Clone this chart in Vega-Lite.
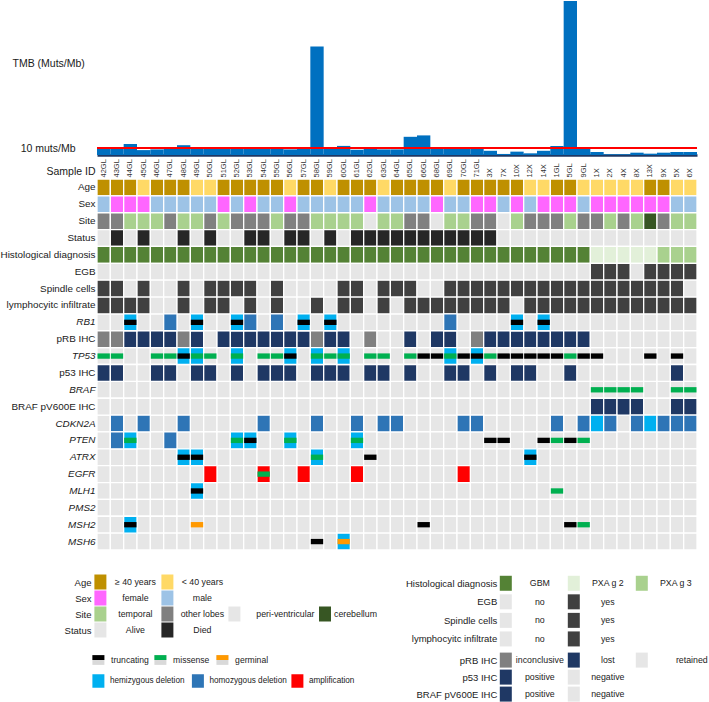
{
  "$schema": "https://vega.github.io/schema/vega-lite/v6.json",
  "padding": {"left": 0, "top": 1, "right": 5, "bottom": 0},
  "bounds": "flush",
  "spacing": 24,
  "config": {
    "view": {"stroke": null},
    "font": "Liberation Sans",
    "axis": {"labelFont": "Liberation Sans", "titleFont": "Liberation Sans", "labelColor": "#1a1a1a", "titleColor": "#1a1a1a", "titleFontWeight": "normal"},
    "text": {"font": "Liberation Sans"}
  },
  "datasets": {
    "samples": [
      {"sample":"42GL","TMB":9.5,"Age":"≥ 40 years","Sex":"male","Site":"other lobes","Status":"Alive","Histological diagnosis":"GBM","EGB":"no","Spindle cells":"yes","lymphocyitc infiltrate":"yes","pRB IHC":"inconclusive","p53 IHC":"positive","BRAF pV600E IHC":"negative"},
      {"sample":"43GL","TMB":9.5,"Age":"≥ 40 years","Sex":"female","Site":"other lobes","Status":"Died","Histological diagnosis":"GBM","EGB":"no","Spindle cells":"yes","lymphocyitc infiltrate":"yes","pRB IHC":"inconclusive","p53 IHC":"positive","BRAF pV600E IHC":"negative"},
      {"sample":"44GL","TMB":15.7,"Age":"≥ 40 years","Sex":"female","Site":"temporal","Status":"Alive","Histological diagnosis":"GBM","EGB":"no","Spindle cells":"no","lymphocyitc infiltrate":"yes","pRB IHC":"lost","p53 IHC":"negative","BRAF pV600E IHC":"negative"},
      {"sample":"45GL","TMB":7,"Age":"< 40 years","Sex":"female","Site":"temporal","Status":"Died","Histological diagnosis":"GBM","EGB":"no","Spindle cells":"yes","lymphocyitc infiltrate":"yes","pRB IHC":"lost","p53 IHC":"negative","BRAF pV600E IHC":"negative"},
      {"sample":"46GL","TMB":8,"Age":"≥ 40 years","Sex":"male","Site":"temporal","Status":"Alive","Histological diagnosis":"GBM","EGB":"no","Spindle cells":"no","lymphocyitc infiltrate":"no","pRB IHC":"lost","p53 IHC":"positive","BRAF pV600E IHC":"negative"},
      {"sample":"47GL","TMB":9.5,"Age":"≥ 40 years","Sex":"male","Site":"other lobes","Status":"Alive","Histological diagnosis":"GBM","EGB":"no","Spindle cells":"no","lymphocyitc infiltrate":"no","pRB IHC":"lost","p53 IHC":"positive","BRAF pV600E IHC":"negative"},
      {"sample":"48GL","TMB":14,"Age":"≥ 40 years","Sex":"male","Site":"temporal","Status":"Died","Histological diagnosis":"GBM","EGB":"no","Spindle cells":"yes","lymphocyitc infiltrate":"yes","pRB IHC":"inconclusive","p53 IHC":"negative","BRAF pV600E IHC":"negative"},
      {"sample":"49GL","TMB":9.5,"Age":"< 40 years","Sex":"male","Site":"temporal","Status":"Alive","Histological diagnosis":"GBM","EGB":"no","Spindle cells":"no","lymphocyitc infiltrate":"no","pRB IHC":"lost","p53 IHC":"positive","BRAF pV600E IHC":"negative"},
      {"sample":"50GL","TMB":9.5,"Age":"< 40 years","Sex":"male","Site":"other lobes","Status":"Died","Histological diagnosis":"GBM","EGB":"no","Spindle cells":"yes","lymphocyitc infiltrate":"yes","pRB IHC":"retained","p53 IHC":"positive","BRAF pV600E IHC":"negative"},
      {"sample":"51GL","TMB":9.5,"Age":"≥ 40 years","Sex":"female","Site":"temporal","Status":"Alive","Histological diagnosis":"GBM","EGB":"no","Spindle cells":"yes","lymphocyitc infiltrate":"yes","pRB IHC":"lost","p53 IHC":"negative","BRAF pV600E IHC":"negative"},
      {"sample":"52GL","TMB":9.5,"Age":"≥ 40 years","Sex":"male","Site":"other lobes","Status":"Alive","Histological diagnosis":"GBM","EGB":"no","Spindle cells":"yes","lymphocyitc infiltrate":"no","pRB IHC":"lost","p53 IHC":"positive","BRAF pV600E IHC":"negative"},
      {"sample":"53GL","TMB":9.5,"Age":"≥ 40 years","Sex":"female","Site":"other lobes","Status":"Died","Histological diagnosis":"GBM","EGB":"no","Spindle cells":"yes","lymphocyitc infiltrate":"yes","pRB IHC":"lost","p53 IHC":"negative","BRAF pV600E IHC":"negative"},
      {"sample":"54GL","TMB":9.5,"Age":"≥ 40 years","Sex":"male","Site":"other lobes","Status":"Died","Histological diagnosis":"GBM","EGB":"no","Spindle cells":"no","lymphocyitc infiltrate":"no","pRB IHC":"lost","p53 IHC":"positive","BRAF pV600E IHC":"negative"},
      {"sample":"55GL","TMB":9.5,"Age":"≥ 40 years","Sex":"male","Site":"temporal","Status":"Alive","Histological diagnosis":"GBM","EGB":"no","Spindle cells":"yes","lymphocyitc infiltrate":"yes","pRB IHC":"lost","p53 IHC":"positive","BRAF pV600E IHC":"negative"},
      {"sample":"56GL","TMB":8,"Age":"< 40 years","Sex":"female","Site":"other lobes","Status":"Died","Histological diagnosis":"GBM","EGB":"no","Spindle cells":"no","lymphocyitc infiltrate":"no","pRB IHC":"lost","p53 IHC":"positive","BRAF pV600E IHC":"negative"},
      {"sample":"57GL","TMB":9.5,"Age":"≥ 40 years","Sex":"male","Site":"other lobes","Status":"Died","Histological diagnosis":"GBM","EGB":"no","Spindle cells":"no","lymphocyitc infiltrate":"no","pRB IHC":"lost","p53 IHC":"negative","BRAF pV600E IHC":"negative"},
      {"sample":"58GL","TMB":155,"Age":"≥ 40 years","Sex":"male","Site":"temporal","Status":"Alive","Histological diagnosis":"GBM","EGB":"no","Spindle cells":"no","lymphocyitc infiltrate":"yes","pRB IHC":"inconclusive","p53 IHC":"positive","BRAF pV600E IHC":"negative"},
      {"sample":"59GL","TMB":9.5,"Age":"< 40 years","Sex":"male","Site":"temporal","Status":"Died","Histological diagnosis":"GBM","EGB":"no","Spindle cells":"no","lymphocyitc infiltrate":"no","pRB IHC":"lost","p53 IHC":"positive","BRAF pV600E IHC":"negative"},
      {"sample":"60GL","TMB":13,"Age":"≥ 40 years","Sex":"male","Site":"temporal","Status":"Alive","Histological diagnosis":"GBM","EGB":"no","Spindle cells":"yes","lymphocyitc infiltrate":"yes","pRB IHC":"lost","p53 IHC":"positive","BRAF pV600E IHC":"negative"},
      {"sample":"61GL","TMB":7.5,"Age":"≥ 40 years","Sex":"male","Site":"temporal","Status":"Died","Histological diagnosis":"GBM","EGB":"no","Spindle cells":"yes","lymphocyitc infiltrate":"yes","pRB IHC":"retained","p53 IHC":"negative","BRAF pV600E IHC":"negative"},
      {"sample":"62GL","TMB":9.5,"Age":"≥ 40 years","Sex":"female","Site":"peri-ventricular","Status":"Died","Histological diagnosis":"GBM","EGB":"no","Spindle cells":"no","lymphocyitc infiltrate":"no","pRB IHC":"inconclusive","p53 IHC":"positive","BRAF pV600E IHC":"negative"},
      {"sample":"63GL","TMB":8,"Age":"< 40 years","Sex":"male","Site":"temporal","Status":"Died","Histological diagnosis":"GBM","EGB":"no","Spindle cells":"yes","lymphocyitc infiltrate":"yes","pRB IHC":"retained","p53 IHC":"positive","BRAF pV600E IHC":"negative"},
      {"sample":"64GL","TMB":8,"Age":"≥ 40 years","Sex":"male","Site":"temporal","Status":"Died","Histological diagnosis":"GBM","EGB":"no","Spindle cells":"yes","lymphocyitc infiltrate":"no","pRB IHC":"retained","p53 IHC":"negative","BRAF pV600E IHC":"negative"},
      {"sample":"65GL","TMB":26,"Age":"≥ 40 years","Sex":"male","Site":"other lobes","Status":"Died","Histological diagnosis":"GBM","EGB":"no","Spindle cells":"yes","lymphocyitc infiltrate":"yes","pRB IHC":"lost","p53 IHC":"positive","BRAF pV600E IHC":"negative"},
      {"sample":"66GL","TMB":28,"Age":"≥ 40 years","Sex":"male","Site":"other lobes","Status":"Died","Histological diagnosis":"GBM","EGB":"no","Spindle cells":"no","lymphocyitc infiltrate":"yes","pRB IHC":"retained","p53 IHC":"negative","BRAF pV600E IHC":"negative"},
      {"sample":"68GL","TMB":9.5,"Age":"≥ 40 years","Sex":"female","Site":"peri-ventricular","Status":"Died","Histological diagnosis":"GBM","EGB":"no","Spindle cells":"no","lymphocyitc infiltrate":"yes","pRB IHC":"lost","p53 IHC":"negative","BRAF pV600E IHC":"negative"},
      {"sample":"69GL","TMB":9.5,"Age":"< 40 years","Sex":"male","Site":"temporal","Status":"Died","Histological diagnosis":"GBM","EGB":"no","Spindle cells":"yes","lymphocyitc infiltrate":"yes","pRB IHC":"lost","p53 IHC":"positive","BRAF pV600E IHC":"negative"},
      {"sample":"70GL","TMB":9.5,"Age":"≥ 40 years","Sex":"male","Site":"temporal","Status":"Died","Histological diagnosis":"GBM","EGB":"no","Spindle cells":"yes","lymphocyitc infiltrate":"yes","pRB IHC":"retained","p53 IHC":"positive","BRAF pV600E IHC":"negative"},
      {"sample":"71GL","TMB":9.5,"Age":"≥ 40 years","Sex":"female","Site":"other lobes","Status":"Died","Histological diagnosis":"GBM","EGB":"no","Spindle cells":"yes","lymphocyitc infiltrate":"yes","pRB IHC":"inconclusive","p53 IHC":"negative","BRAF pV600E IHC":"negative"},
      {"sample":"3X","TMB":6,"Age":"≥ 40 years","Sex":"female","Site":"other lobes","Status":"Died","Histological diagnosis":"GBM","EGB":"no","Spindle cells":"yes","lymphocyitc infiltrate":"yes","pRB IHC":"lost","p53 IHC":"positive","BRAF pV600E IHC":"negative"},
      {"sample":"7X","TMB":1.5,"Age":"≥ 40 years","Sex":"male","Site":"peri-ventricular","Status":"Alive","Histological diagnosis":"GBM","EGB":"no","Spindle cells":"yes","lymphocyitc infiltrate":"yes","pRB IHC":"lost","p53 IHC":"negative","BRAF pV600E IHC":"negative"},
      {"sample":"10X","TMB":4.8,"Age":"≥ 40 years","Sex":"female","Site":"temporal","Status":"Alive","Histological diagnosis":"GBM","EGB":"no","Spindle cells":"yes","lymphocyitc infiltrate":"no","pRB IHC":"lost","p53 IHC":"positive","BRAF pV600E IHC":"negative"},
      {"sample":"12X","TMB":2.4,"Age":"< 40 years","Sex":"male","Site":"other lobes","Status":"Alive","Histological diagnosis":"GBM","EGB":"no","Spindle cells":"yes","lymphocyitc infiltrate":"yes","pRB IHC":"lost","p53 IHC":"positive","BRAF pV600E IHC":"negative"},
      {"sample":"14X","TMB":6,"Age":"< 40 years","Sex":"female","Site":"other lobes","Status":"Alive","Histological diagnosis":"GBM","EGB":"no","Spindle cells":"yes","lymphocyitc infiltrate":"yes","pRB IHC":"lost","p53 IHC":"negative","BRAF pV600E IHC":"negative"},
      {"sample":"1GL","TMB":12.9,"Age":"≥ 40 years","Sex":"female","Site":"other lobes","Status":"Alive","Histological diagnosis":"GBM","EGB":"no","Spindle cells":"yes","lymphocyitc infiltrate":"yes","pRB IHC":"lost","p53 IHC":"negative","BRAF pV600E IHC":"negative"},
      {"sample":"5GL","TMB":220,"Age":"≥ 40 years","Sex":"female","Site":"temporal","Status":"Alive","Histological diagnosis":"GBM","EGB":"no","Spindle cells":"yes","lymphocyitc infiltrate":"yes","pRB IHC":"lost","p53 IHC":"positive","BRAF pV600E IHC":"negative"},
      {"sample":"9GL","TMB":9.5,"Age":"< 40 years","Sex":"male","Site":"other lobes","Status":"Alive","Histological diagnosis":"GBM","EGB":"no","Spindle cells":"yes","lymphocyitc infiltrate":"yes","pRB IHC":"lost","p53 IHC":"negative","BRAF pV600E IHC":"negative"},
      {"sample":"1X","TMB":4.3,"Age":"< 40 years","Sex":"female","Site":"other lobes","Status":"Alive","Histological diagnosis":"PXA g 2","EGB":"yes","Spindle cells":"yes","lymphocyitc infiltrate":"yes","pRB IHC":"retained","p53 IHC":"negative","BRAF pV600E IHC":"positive"},
      {"sample":"2X","TMB":1,"Age":"< 40 years","Sex":"female","Site":"temporal","Status":"Alive","Histological diagnosis":"PXA g 2","EGB":"yes","Spindle cells":"yes","lymphocyitc infiltrate":"yes","pRB IHC":"retained","p53 IHC":"negative","BRAF pV600E IHC":"positive"},
      {"sample":"4X","TMB":1,"Age":"< 40 years","Sex":"female","Site":"other lobes","Status":"Alive","Histological diagnosis":"PXA g 2","EGB":"yes","Spindle cells":"yes","lymphocyitc infiltrate":"yes","pRB IHC":"retained","p53 IHC":"negative","BRAF pV600E IHC":"positive"},
      {"sample":"8X","TMB":3.3,"Age":"< 40 years","Sex":"female","Site":"temporal","Status":"Alive","Histological diagnosis":"PXA g 2","EGB":"no","Spindle cells":"yes","lymphocyitc infiltrate":"yes","pRB IHC":"retained","p53 IHC":"negative","BRAF pV600E IHC":"positive"},
      {"sample":"13X","TMB":1.9,"Age":"≥ 40 years","Sex":"female","Site":"cerebellum","Status":"Alive","Histological diagnosis":"PXA g 2","EGB":"yes","Spindle cells":"yes","lymphocyitc infiltrate":"yes","pRB IHC":"retained","p53 IHC":"negative","BRAF pV600E IHC":"negative"},
      {"sample":"9X","TMB":3.3,"Age":"≥ 40 years","Sex":"female","Site":"other lobes","Status":"Alive","Histological diagnosis":"PXA g 3","EGB":"yes","Spindle cells":"yes","lymphocyitc infiltrate":"yes","pRB IHC":"retained","p53 IHC":"negative","BRAF pV600E IHC":"negative"},
      {"sample":"5X","TMB":4.3,"Age":"< 40 years","Sex":"male","Site":"temporal","Status":"Alive","Histological diagnosis":"PXA g 3","EGB":"yes","Spindle cells":"yes","lymphocyitc infiltrate":"yes","pRB IHC":"retained","p53 IHC":"positive","BRAF pV600E IHC":"positive"},
      {"sample":"6X","TMB":4.3,"Age":"< 40 years","Sex":"male","Site":"temporal","Status":"Alive","Histological diagnosis":"PXA g 3","EGB":"yes","Spindle cells":"no","lymphocyitc infiltrate":"yes","pRB IHC":"retained","p53 IHC":"negative","BRAF pV600E IHC":"positive"}
    ],
    "alterations": [
      {"sample":"44GL","row":"RB1","cnv":"hemizygous deletion","mut":"truncating"},
      {"sample":"47GL","row":"RB1","cnv":"homozygous deletion"},
      {"sample":"49GL","row":"RB1","cnv":"hemizygous deletion","mut":"truncating"},
      {"sample":"52GL","row":"RB1","cnv":"hemizygous deletion","mut":"truncating"},
      {"sample":"53GL","row":"RB1","cnv":"homozygous deletion"},
      {"sample":"55GL","row":"RB1","cnv":"homozygous deletion"},
      {"sample":"57GL","row":"RB1","cnv":"hemizygous deletion","mut":"truncating"},
      {"sample":"59GL","row":"RB1","cnv":"hemizygous deletion","mut":"truncating"},
      {"sample":"69GL","row":"RB1","cnv":"homozygous deletion"},
      {"sample":"10X","row":"RB1","cnv":"hemizygous deletion","mut":"truncating"},
      {"sample":"14X","row":"RB1","cnv":"hemizygous deletion","mut":"truncating"},
      {"sample":"42GL","row":"TP53","mut":"missense"},
      {"sample":"43GL","row":"TP53","mut":"missense"},
      {"sample":"46GL","row":"TP53","mut":"missense"},
      {"sample":"47GL","row":"TP53","mut":"missense"},
      {"sample":"48GL","row":"TP53","cnv":"hemizygous deletion","mut":"truncating"},
      {"sample":"49GL","row":"TP53","cnv":"hemizygous deletion","mut":"missense"},
      {"sample":"50GL","row":"TP53","mut":"missense"},
      {"sample":"52GL","row":"TP53","cnv":"hemizygous deletion","mut":"missense"},
      {"sample":"54GL","row":"TP53","mut":"missense"},
      {"sample":"55GL","row":"TP53","mut":"missense"},
      {"sample":"56GL","row":"TP53","cnv":"hemizygous deletion","mut":"truncating"},
      {"sample":"58GL","row":"TP53","cnv":"hemizygous deletion","mut":"missense"},
      {"sample":"59GL","row":"TP53","mut":"missense"},
      {"sample":"60GL","row":"TP53","cnv":"hemizygous deletion","mut":"missense"},
      {"sample":"62GL","row":"TP53","mut":"missense"},
      {"sample":"63GL","row":"TP53","mut":"missense"},
      {"sample":"65GL","row":"TP53","mut":"missense"},
      {"sample":"66GL","row":"TP53","mut":"truncating"},
      {"sample":"68GL","row":"TP53","mut":"truncating"},
      {"sample":"69GL","row":"TP53","cnv":"hemizygous deletion","mut":"missense"},
      {"sample":"70GL","row":"TP53","mut":"truncating"},
      {"sample":"71GL","row":"TP53","cnv":"hemizygous deletion","mut":"truncating"},
      {"sample":"3X","row":"TP53","mut":"missense"},
      {"sample":"7X","row":"TP53","mut":"truncating"},
      {"sample":"10X","row":"TP53","mut":"truncating"},
      {"sample":"12X","row":"TP53","mut":"truncating"},
      {"sample":"14X","row":"TP53","mut":"truncating"},
      {"sample":"1GL","row":"TP53","mut":"truncating"},
      {"sample":"5GL","row":"TP53","mut":"missense"},
      {"sample":"9GL","row":"TP53","mut":"truncating"},
      {"sample":"1X","row":"TP53","mut":"truncating"},
      {"sample":"13X","row":"TP53","mut":"truncating"},
      {"sample":"5X","row":"TP53","mut":"truncating"},
      {"sample":"1X","row":"BRAF","mut":"missense"},
      {"sample":"2X","row":"BRAF","mut":"missense"},
      {"sample":"4X","row":"BRAF","mut":"missense"},
      {"sample":"8X","row":"BRAF","mut":"missense"},
      {"sample":"5X","row":"BRAF","mut":"missense"},
      {"sample":"6X","row":"BRAF","mut":"missense"},
      {"sample":"43GL","row":"CDKN2A","cnv":"homozygous deletion"},
      {"sample":"45GL","row":"CDKN2A","cnv":"homozygous deletion"},
      {"sample":"48GL","row":"CDKN2A","cnv":"homozygous deletion"},
      {"sample":"54GL","row":"CDKN2A","cnv":"homozygous deletion"},
      {"sample":"58GL","row":"CDKN2A","cnv":"homozygous deletion"},
      {"sample":"61GL","row":"CDKN2A","cnv":"homozygous deletion"},
      {"sample":"63GL","row":"CDKN2A","cnv":"homozygous deletion"},
      {"sample":"64GL","row":"CDKN2A","cnv":"homozygous deletion"},
      {"sample":"70GL","row":"CDKN2A","cnv":"homozygous deletion"},
      {"sample":"71GL","row":"CDKN2A","cnv":"homozygous deletion"},
      {"sample":"1GL","row":"CDKN2A","cnv":"homozygous deletion"},
      {"sample":"9GL","row":"CDKN2A","cnv":"homozygous deletion"},
      {"sample":"1X","row":"CDKN2A","cnv":"hemizygous deletion"},
      {"sample":"2X","row":"CDKN2A","cnv":"homozygous deletion"},
      {"sample":"8X","row":"CDKN2A","cnv":"homozygous deletion"},
      {"sample":"13X","row":"CDKN2A","cnv":"hemizygous deletion"},
      {"sample":"9X","row":"CDKN2A","cnv":"homozygous deletion"},
      {"sample":"5X","row":"CDKN2A","cnv":"homozygous deletion"},
      {"sample":"6X","row":"CDKN2A","cnv":"homozygous deletion"},
      {"sample":"43GL","row":"PTEN","cnv":"homozygous deletion"},
      {"sample":"44GL","row":"PTEN","cnv":"hemizygous deletion","mut":"missense"},
      {"sample":"47GL","row":"PTEN","cnv":"homozygous deletion"},
      {"sample":"52GL","row":"PTEN","cnv":"hemizygous deletion","mut":"missense"},
      {"sample":"53GL","row":"PTEN","cnv":"hemizygous deletion","mut":"truncating"},
      {"sample":"56GL","row":"PTEN","cnv":"hemizygous deletion","mut":"missense"},
      {"sample":"61GL","row":"PTEN","cnv":"hemizygous deletion","mut":"missense"},
      {"sample":"3X","row":"PTEN","mut":"truncating"},
      {"sample":"7X","row":"PTEN","mut":"truncating"},
      {"sample":"14X","row":"PTEN","mut":"truncating"},
      {"sample":"1GL","row":"PTEN","mut":"missense"},
      {"sample":"5GL","row":"PTEN","mut":"truncating"},
      {"sample":"9GL","row":"PTEN","mut":"missense"},
      {"sample":"48GL","row":"ATRX","cnv":"hemizygous deletion","mut":"truncating"},
      {"sample":"49GL","row":"ATRX","cnv":"hemizygous deletion","mut":"truncating"},
      {"sample":"58GL","row":"ATRX","cnv":"hemizygous deletion","mut":"missense"},
      {"sample":"62GL","row":"ATRX","mut":"truncating"},
      {"sample":"12X","row":"ATRX","cnv":"hemizygous deletion","mut":"truncating"},
      {"sample":"50GL","row":"EGFR","cnv":"amplification"},
      {"sample":"54GL","row":"EGFR","cnv":"amplification","mut":"missense"},
      {"sample":"57GL","row":"EGFR","cnv":"amplification"},
      {"sample":"61GL","row":"EGFR","cnv":"amplification"},
      {"sample":"70GL","row":"EGFR","cnv":"amplification"},
      {"sample":"49GL","row":"MLH1","cnv":"hemizygous deletion","mut":"truncating"},
      {"sample":"1GL","row":"MLH1","mut":"missense"},
      {"sample":"44GL","row":"MSH2","cnv":"hemizygous deletion","mut":"truncating"},
      {"sample":"49GL","row":"MSH2","mut":"germinal"},
      {"sample":"66GL","row":"MSH2","mut":"truncating"},
      {"sample":"5GL","row":"MSH2","mut":"truncating"},
      {"sample":"9GL","row":"MSH2","mut":"missense"},
      {"sample":"58GL","row":"MSH6","mut":"truncating"},
      {"sample":"60GL","row":"MSH6","cnv":"hemizygous deletion","mut":"germinal"}
    ],
    "legend_clin": [
      {"row":"Age","slot":1,"cat":"≥ 40 years"},{"row":"Age","slot":2,"cat":"< 40 years"},
      {"row":"Sex","slot":1,"cat":"female"},{"row":"Sex","slot":2,"cat":"male"},
      {"row":"Site","slot":1,"cat":"temporal"},{"row":"Site","slot":2,"cat":"other lobes"},{"row":"Site","slot":3,"cat":"peri-ventricular"},{"row":"Site","slot":4,"cat":"cerebellum"},
      {"row":"Status","slot":1,"cat":"Alive"},{"row":"Status","slot":2,"cat":"Died"}
    ],
    "legend_alt": [
      {"row":"mutation","slot":1,"cat":"truncating"},{"row":"mutation","slot":2,"cat":"missense"},{"row":"mutation","slot":3,"cat":"germinal"},
      {"row":"cnv","slot":1,"cat":"hemizygous deletion"},{"row":"cnv","slot":2,"cat":"homozygous deletion"},{"row":"cnv","slot":3,"cat":"amplification"}
    ],
    "legend_hist": [
      {"row":"Histological diagnosis","slot":1,"cat":"GBM"},{"row":"Histological diagnosis","slot":2,"cat":"PXA g 2"},{"row":"Histological diagnosis","slot":3,"cat":"PXA g 3"},
      {"row":"EGB","slot":1,"cat":"no"},{"row":"EGB","slot":2,"cat":"yes"},
      {"row":"Spindle cells","slot":1,"cat":"no"},{"row":"Spindle cells","slot":2,"cat":"yes"},
      {"row":"lymphocyitc infiltrate","slot":1,"cat":"no"},{"row":"lymphocyitc infiltrate","slot":2,"cat":"yes"}
    ],
    "legend_ihc": [
      {"row":"pRB IHC","slot":1,"cat":"inconclusive"},{"row":"pRB IHC","slot":2,"cat":"lost"},{"row":"pRB IHC","slot":3,"cat":"retained"},
      {"row":"p53 IHC","slot":1,"cat":"positive"},{"row":"p53 IHC","slot":2,"cat":"negative"},
      {"row":"BRAF pV600E IHC","slot":1,"cat":"positive"},{"row":"BRAF pV600E IHC","slot":2,"cat":"negative"}
    ]
  },
  "vconcat": [
    {
      "width": 600,
      "height": 154,
      "data": {"name": "samples"},
      "layer": [
        {
          "mark": {"type": "bar", "color": "#0070C0"},
          "encoding": {
            "x": {"field": "sample", "type": "nominal", "scale": {"domain": ["42GL","43GL","44GL","45GL","46GL","47GL","48GL","49GL","50GL","51GL","52GL","53GL","54GL","55GL","56GL","57GL","58GL","59GL","60GL","61GL","62GL","63GL","64GL","65GL","66GL","68GL","69GL","70GL","71GL","3X","7X","10X","12X","14X","1GL","5GL","9GL","1X","2X","4X","8X","13X","9X","5X","6X"], "paddingInner": 0, "paddingOuter": 0}, "axis": {"labels": false, "ticks": false, "title": null, "domainColor": "#1F3864", "domainWidth": 2.5}},
            "y": {"field": "TMB", "type": "quantitative", "scale": {"domain": [0, 220], "nice": false}, "axis": {"values": [10], "labelExpr": "'10 muts/Mb'", "ticks": false, "domain": false, "grid": false, "labelPadding": 22, "labelFontSize": 10.5, "title": "TMB (Muts/Mb)", "titleAngle": 0, "titleAlign": "left", "titleBaseline": "middle", "titleX": -85, "titleY": 62, "titleFontSize": 10.5}}
          }
        },
        {
          "mark": {"type": "rule", "color": "#FF0000", "strokeWidth": 1.5},
          "encoding": {"y": {"datum": 10}}
        }
      ]
    },
    {
      "width": 600,
      "height": 371,
      "encoding": {
        "x": {"field": "sample", "type": "nominal", "scale": {"domain": ["42GL","43GL","44GL","45GL","46GL","47GL","48GL","49GL","50GL","51GL","52GL","53GL","54GL","55GL","56GL","57GL","58GL","59GL","60GL","61GL","62GL","63GL","64GL","65GL","66GL","68GL","69GL","70GL","71GL","3X","7X","10X","12X","14X","1GL","5GL","9GL","1X","2X","4X","8X","13X","9X","5X","6X"], "paddingInner": 0, "paddingOuter": 0}, "axis": {"orient": "top", "labelAngle": -90, "labelFontSize": 7.5, "labelPadding": 2, "ticks": false, "domain": false, "labelOverlap": false, "labelColor": "#333333", "title": "Sample ID", "titleFontSize": 10.5, "titleAngle": 0, "titleAlign": "right", "titleBaseline": "middle", "titleX": -2, "titleY": -8}},
        "y": {"field": "row", "type": "nominal", "scale": {"domain": ["Age","Sex","Site","Status","Histological diagnosis","EGB","Spindle cells","lymphocyitc infiltrate","RB1","pRB IHC","TP53","p53 IHC","BRAF","BRAF pV600E IHC","CDKN2A","PTEN","ATRX","EGFR","MLH1","PMS2","MSH2","MSH6"], "paddingInner": 0, "paddingOuter": 0}, "axis": {"title": null, "ticks": false, "domain": false, "labelPadding": 2, "labelFontSize": 9.9, "labelOverlap": false, "labelFontStyle": {"condition": {"test": "indexof(['RB1','TP53','BRAF','CDKN2A','PTEN','ATRX','EGFR','MLH1','PMS2','MSH2','MSH6'], datum.value) >= 0", "value": "italic"}, "value": "normal"}}}
      },
      "layer": [
        {
          "data": {"name": "samples"},
          "transform": [{"fold": ["RB1","TP53","BRAF","CDKN2A","PTEN","ATRX","EGFR","MLH1","PMS2","MSH2","MSH6"], "as": ["row", "v"]}],
          "mark": {"type": "rect", "fill": "#E6E6E6", "stroke": "white", "strokeWidth": 1.3}
        },
        {
          "data": {"name": "samples"},
          "transform": [{"fold": ["Age","Sex","Site","Status","Histological diagnosis","EGB","Spindle cells","lymphocyitc infiltrate","pRB IHC","p53 IHC","BRAF pV600E IHC"], "as": ["row", "cat"]}],
          "mark": {"type": "rect", "stroke": "white", "strokeWidth": 1.3},
          "encoding": {"color": {"field": "cat", "type": "nominal", "legend": null, "scale": {"domain": ["≥ 40 years","< 40 years","female","male","temporal","other lobes","peri-ventricular","cerebellum","Alive","Died","GBM","PXA g 2","PXA g 3","no","yes","inconclusive","lost","retained","positive","negative","hemizygous deletion","homozygous deletion","amplification","truncating","missense","germinal"], "range": ["#BF9000","#FFD966","#FF66FF","#9DC3E6","#A9D18E","#808080","#E6E6E6","#375623","#E6E6E6","#262626","#548235","#E2F0D9","#A9D18E","#E6E6E6","#404040","#808080","#1F3864","#E6E6E6","#1F3864","#E6E6E6","#00B0F0","#2E75B6","#FF0000","#000000","#00B050","#FF9900"]}}}
        },
        {
          "data": {"name": "alterations"},
          "transform": [{"filter": "isValid(datum.cnv)"}],
          "mark": {"type": "rect", "stroke": "white", "strokeWidth": 1.3},
          "encoding": {"color": {"field": "cnv", "type": "nominal", "legend": null, "scale": {"domain": ["≥ 40 years","< 40 years","female","male","temporal","other lobes","peri-ventricular","cerebellum","Alive","Died","GBM","PXA g 2","PXA g 3","no","yes","inconclusive","lost","retained","positive","negative","hemizygous deletion","homozygous deletion","amplification","truncating","missense","germinal"], "range": ["#BF9000","#FFD966","#FF66FF","#9DC3E6","#A9D18E","#808080","#E6E6E6","#375623","#E6E6E6","#262626","#548235","#E2F0D9","#A9D18E","#E6E6E6","#404040","#808080","#1F3864","#E6E6E6","#1F3864","#E6E6E6","#00B0F0","#2E75B6","#FF0000","#000000","#00B050","#FF9900"]}}}
        },
        {
          "data": {"name": "alterations"},
          "transform": [{"filter": "isValid(datum.mut)"}],
          "mark": {"type": "point", "shape": "M-0.95,-0.41H0.95V0.41H-0.95Z", "size": 169, "filled": true, "opacity": 1, "strokeWidth": 0},
          "encoding": {"color": {"field": "mut", "type": "nominal", "legend": null, "scale": {"domain": ["≥ 40 years","< 40 years","female","male","temporal","other lobes","peri-ventricular","cerebellum","Alive","Died","GBM","PXA g 2","PXA g 3","no","yes","inconclusive","lost","retained","positive","negative","hemizygous deletion","homozygous deletion","amplification","truncating","missense","germinal"], "range": ["#BF9000","#FFD966","#FF66FF","#9DC3E6","#A9D18E","#808080","#E6E6E6","#375623","#E6E6E6","#262626","#548235","#E2F0D9","#A9D18E","#E6E6E6","#404040","#808080","#1F3864","#E6E6E6","#1F3864","#E6E6E6","#00B0F0","#2E75B6","#FF0000","#000000","#00B050","#FF9900"]}}}
        }
      ]
    },
    {
      "bounds": "flush",
      "spacing": 402.8,
      "hconcat": [
        {
          "bounds": "flush",
          "spacing": 11.5,
          "vconcat": [
            {
              "width": 240,
              "height": 64,
              "data": {"name": "legend_clin"},
              "resolve": {"scale": {"x": "independent"}},
              "encoding": {
                "y": {"field": "row", "type": "nominal", "scale": {"domain": ["Age","Sex","Site","Status"], "paddingInner": 0, "paddingOuter": 0.08}, "axis": {"title": null, "ticks": false, "domain": false, "labelPadding": 6, "labelFontSize": 9.5}}
              },
              "layer": [
                {
                  "transform": [{"filter": "datum.slot != 4"}],
                  "encoding": {
                    "x": {"field": "slot", "type": "ordinal", "scale": {"type": "point", "domain": [1,2,3], "padding": 0.791, "align": 0.032}, "axis": null}
                  },
                  "layer": [
                    {
                      "mark": {"type": "point", "shape": "M-0.8,-1H0.8V1H-0.8Z", "size": 225, "filled": true, "opacity": 1, "strokeWidth": 0},
                      "encoding": {"color": {"field": "cat", "type": "nominal", "legend": null, "scale": {"domain": ["≥ 40 years","< 40 years","female","male","temporal","other lobes","peri-ventricular","cerebellum","Alive","Died","GBM","PXA g 2","PXA g 3","no","yes","inconclusive","lost","retained","positive","negative","hemizygous deletion","homozygous deletion","amplification","truncating","missense","germinal"], "range": ["#BF9000","#FFD966","#FF66FF","#9DC3E6","#A9D18E","#808080","#E6E6E6","#375623","#E6E6E6","#262626","#548235","#E2F0D9","#A9D18E","#E6E6E6","#404040","#808080","#1F3864","#E6E6E6","#1F3864","#E6E6E6","#00B0F0","#2E75B6","#FF0000","#000000","#00B050","#FF9900"]}}}
                    },
                    {
                      "transform": [{"filter": "datum.slot != 3"}],
                      "mark": {"type": "text", "dx": 35, "align": "center", "baseline": "middle", "fontSize": 8.8, "color": "#222222"},
                      "encoding": {"text": {"field": "cat"}}
                    },
                    {
                      "transform": [{"filter": "datum.slot == 3"}],
                      "mark": {"type": "text", "dx": 51, "align": "center", "baseline": "middle", "fontSize": 8.8, "color": "#222222"},
                      "encoding": {"text": {"field": "cat"}}
                    }
                  ]
                },
                {
                  "transform": [{"filter": "datum.slot == 4"}],
                  "encoding": {
                    "x": {"field": "slot", "type": "ordinal", "scale": {"type": "point", "domain": [1,2,3,4], "padding": 0.079, "align": 0}, "axis": null}
                  },
                  "layer": [
                    {
                      "mark": {"type": "point", "shape": "M-0.8,-1H0.8V1H-0.8Z", "size": 225, "filled": true, "opacity": 1, "strokeWidth": 0},
                      "encoding": {"color": {"field": "cat", "type": "nominal", "legend": null, "scale": {"domain": ["≥ 40 years","< 40 years","female","male","temporal","other lobes","peri-ventricular","cerebellum","Alive","Died","GBM","PXA g 2","PXA g 3","no","yes","inconclusive","lost","retained","positive","negative","hemizygous deletion","homozygous deletion","amplification","truncating","missense","germinal"], "range": ["#BF9000","#FFD966","#FF66FF","#9DC3E6","#A9D18E","#808080","#E6E6E6","#375623","#E6E6E6","#262626","#548235","#E2F0D9","#A9D18E","#E6E6E6","#404040","#808080","#1F3864","#E6E6E6","#1F3864","#E6E6E6","#00B0F0","#2E75B6","#FF0000","#000000","#00B050","#FF9900"]}}}
                    },
                    {
                      "mark": {"type": "text", "dx": 9, "align": "left", "baseline": "middle", "fontSize": 8.8, "color": "#222222"},
                      "encoding": {"text": {"field": "cat"}}
                    }
                  ]
                }
              ]
            },
            {
              "width": 240,
              "height": 42,
              "data": {"name": "legend_alt"},
              "resolve": {"scale": {"x": "independent"}},
              "layer": [
                {
                  "transform": [{"filter": "datum.row == 'mutation'"}],
                  "encoding": {
                    "x": {"field": "slot", "type": "ordinal", "scale": {"type": "point", "domain": [1,2,3], "padding": 0.935, "align": 0.012}, "axis": null},
                    "y": {"field": "row", "type": "nominal", "scale": {"domain": ["mutation","cnv"], "paddingInner": 0, "paddingOuter": 0}, "axis": null}
                  },
                  "layer": [
                    {"mark": {"type": "point", "shape": "M-0.8,-0.65H0.8V0.65H-0.8Z", "size": 225, "filled": true, "color": "#D9D9D9", "opacity": 1, "strokeWidth": 0}},
                    {
                      "mark": {"type": "point", "shape": "M-0.8,-0.65H0.8V0H-0.8Z", "size": 225, "filled": true, "opacity": 1, "strokeWidth": 0},
                      "encoding": {"color": {"field": "cat", "type": "nominal", "legend": null, "scale": {"domain": ["≥ 40 years","< 40 years","female","male","temporal","other lobes","peri-ventricular","cerebellum","Alive","Died","GBM","PXA g 2","PXA g 3","no","yes","inconclusive","lost","retained","positive","negative","hemizygous deletion","homozygous deletion","amplification","truncating","missense","germinal"], "range": ["#BF9000","#FFD966","#FF66FF","#9DC3E6","#A9D18E","#808080","#E6E6E6","#375623","#E6E6E6","#262626","#548235","#E2F0D9","#A9D18E","#E6E6E6","#404040","#808080","#1F3864","#E6E6E6","#1F3864","#E6E6E6","#00B0F0","#2E75B6","#FF0000","#000000","#00B050","#FF9900"]}}}
                    },
                    {"mark": {"type": "text", "dx": 12.7, "align": "left", "baseline": "middle", "fontSize": 8.6, "color": "#222222"}, "encoding": {"text": {"field": "cat"}}}
                  ]
                },
                {
                  "transform": [{"filter": "datum.row == 'cnv'"}],
                  "encoding": {
                    "x": {"field": "slot", "type": "ordinal", "scale": {"type": "point", "domain": [1,2,3], "padding": 0.206, "align": 0.034}, "axis": null},
                    "y": {"field": "row", "type": "nominal", "scale": {"domain": ["mutation","cnv"], "paddingInner": 0, "paddingOuter": 0}, "axis": null}
                  },
                  "layer": [
                    {
                      "mark": {"type": "point", "shape": "M-0.8,-0.9H0.8V0.9H-0.8Z", "size": 225, "filled": true, "opacity": 1, "strokeWidth": 0},
                      "encoding": {"color": {"field": "cat", "type": "nominal", "legend": null, "scale": {"domain": ["≥ 40 years","< 40 years","female","male","temporal","other lobes","peri-ventricular","cerebellum","Alive","Died","GBM","PXA g 2","PXA g 3","no","yes","inconclusive","lost","retained","positive","negative","hemizygous deletion","homozygous deletion","amplification","truncating","missense","germinal"], "range": ["#BF9000","#FFD966","#FF66FF","#9DC3E6","#A9D18E","#808080","#E6E6E6","#375623","#E6E6E6","#262626","#548235","#E2F0D9","#A9D18E","#E6E6E6","#404040","#808080","#1F3864","#E6E6E6","#1F3864","#E6E6E6","#00B0F0","#2E75B6","#FF0000","#000000","#00B050","#FF9900"]}}}
                    },
                    {"mark": {"type": "text", "dx": 11.5, "align": "left", "baseline": "middle", "fontSize": 8.2, "color": "#222222"}, "encoding": {"text": {"field": "cat"}}}
                  ]
                }
              ]
            }
          ]
        },
        {
          "bounds": "flush",
          "spacing": 2.6,
          "vconcat": [
            {
              "width": 150,
              "height": 74.2,
              "data": {"name": "legend_hist"},
              "encoding": {
                "x": {"field": "slot", "type": "ordinal", "scale": {"type": "point", "domain": [1,2,3], "padding": 0.103, "align": 0.4286}, "axis": null},
                "y": {"field": "row", "type": "nominal", "scale": {"domain": ["Histological diagnosis","EGB","Spindle cells","lymphocyitc infiltrate"], "paddingInner": 0, "paddingOuter": 0.41}, "axis": {"title": null, "ticks": false, "domain": false, "labelPadding": 3, "labelFontSize": 9.5}}
              },
              "layer": [
                {
                  "mark": {"type": "point", "shape": "M-0.8,-1H0.8V1H-0.8Z", "size": 225, "filled": true, "opacity": 1, "strokeWidth": 0},
                  "encoding": {"color": {"field": "cat", "type": "nominal", "legend": null, "scale": {"domain": ["≥ 40 years","< 40 years","female","male","temporal","other lobes","peri-ventricular","cerebellum","Alive","Died","GBM","PXA g 2","PXA g 3","no","yes","inconclusive","lost","retained","positive","negative","hemizygous deletion","homozygous deletion","amplification","truncating","missense","germinal"], "range": ["#BF9000","#FFD966","#FF66FF","#9DC3E6","#A9D18E","#808080","#E6E6E6","#375623","#E6E6E6","#262626","#548235","#E2F0D9","#A9D18E","#E6E6E6","#404040","#808080","#1F3864","#E6E6E6","#1F3864","#E6E6E6","#00B0F0","#2E75B6","#FF0000","#000000","#00B050","#FF9900"]}}}
                },
                {
                  "mark": {"type": "text", "dx": 34, "align": "center", "baseline": "middle", "fontSize": 8.8, "color": "#222222"},
                  "encoding": {"text": {"field": "cat"}}
                }
              ]
            },
            {
              "width": 150,
              "height": 51,
              "data": {"name": "legend_ihc"},
              "encoding": {
                "x": {"field": "slot", "type": "ordinal", "scale": {"type": "point", "domain": [1,2,3], "padding": 0.103, "align": 0.4286}, "axis": null},
                "y": {"field": "row", "type": "nominal", "scale": {"domain": ["pRB IHC","p53 IHC","BRAF pV600E IHC"], "paddingInner": 0, "paddingOuter": 0}, "axis": {"title": null, "ticks": false, "domain": false, "labelPadding": 3, "labelFontSize": 9.5}}
              },
              "layer": [
                {
                  "mark": {"type": "point", "shape": "M-0.8,-1H0.8V1H-0.8Z", "size": 225, "filled": true, "opacity": 1, "strokeWidth": 0},
                  "encoding": {"color": {"field": "cat", "type": "nominal", "legend": null, "scale": {"domain": ["≥ 40 years","< 40 years","female","male","temporal","other lobes","peri-ventricular","cerebellum","Alive","Died","GBM","PXA g 2","PXA g 3","no","yes","inconclusive","lost","retained","positive","negative","hemizygous deletion","homozygous deletion","amplification","truncating","missense","germinal"], "range": ["#BF9000","#FFD966","#FF66FF","#9DC3E6","#A9D18E","#808080","#E6E6E6","#375623","#E6E6E6","#262626","#548235","#E2F0D9","#A9D18E","#E6E6E6","#404040","#808080","#1F3864","#E6E6E6","#1F3864","#E6E6E6","#00B0F0","#2E75B6","#FF0000","#000000","#00B050","#FF9900"]}}}
                },
                {
                  "transform": [{"filter": "datum.slot != 3"}],
                  "mark": {"type": "text", "dx": 34, "align": "center", "baseline": "middle", "fontSize": 8.8, "color": "#222222"},
                  "encoding": {"text": {"field": "cat"}}
                },
                {
                  "transform": [{"filter": "datum.slot == 3"}],
                  "mark": {"type": "text", "dx": 50, "align": "center", "baseline": "middle", "fontSize": 8.8, "color": "#222222"},
                  "encoding": {"text": {"field": "cat"}}
                }
              ]
            }
          ]
        }
      ]
    }
  ]
}
